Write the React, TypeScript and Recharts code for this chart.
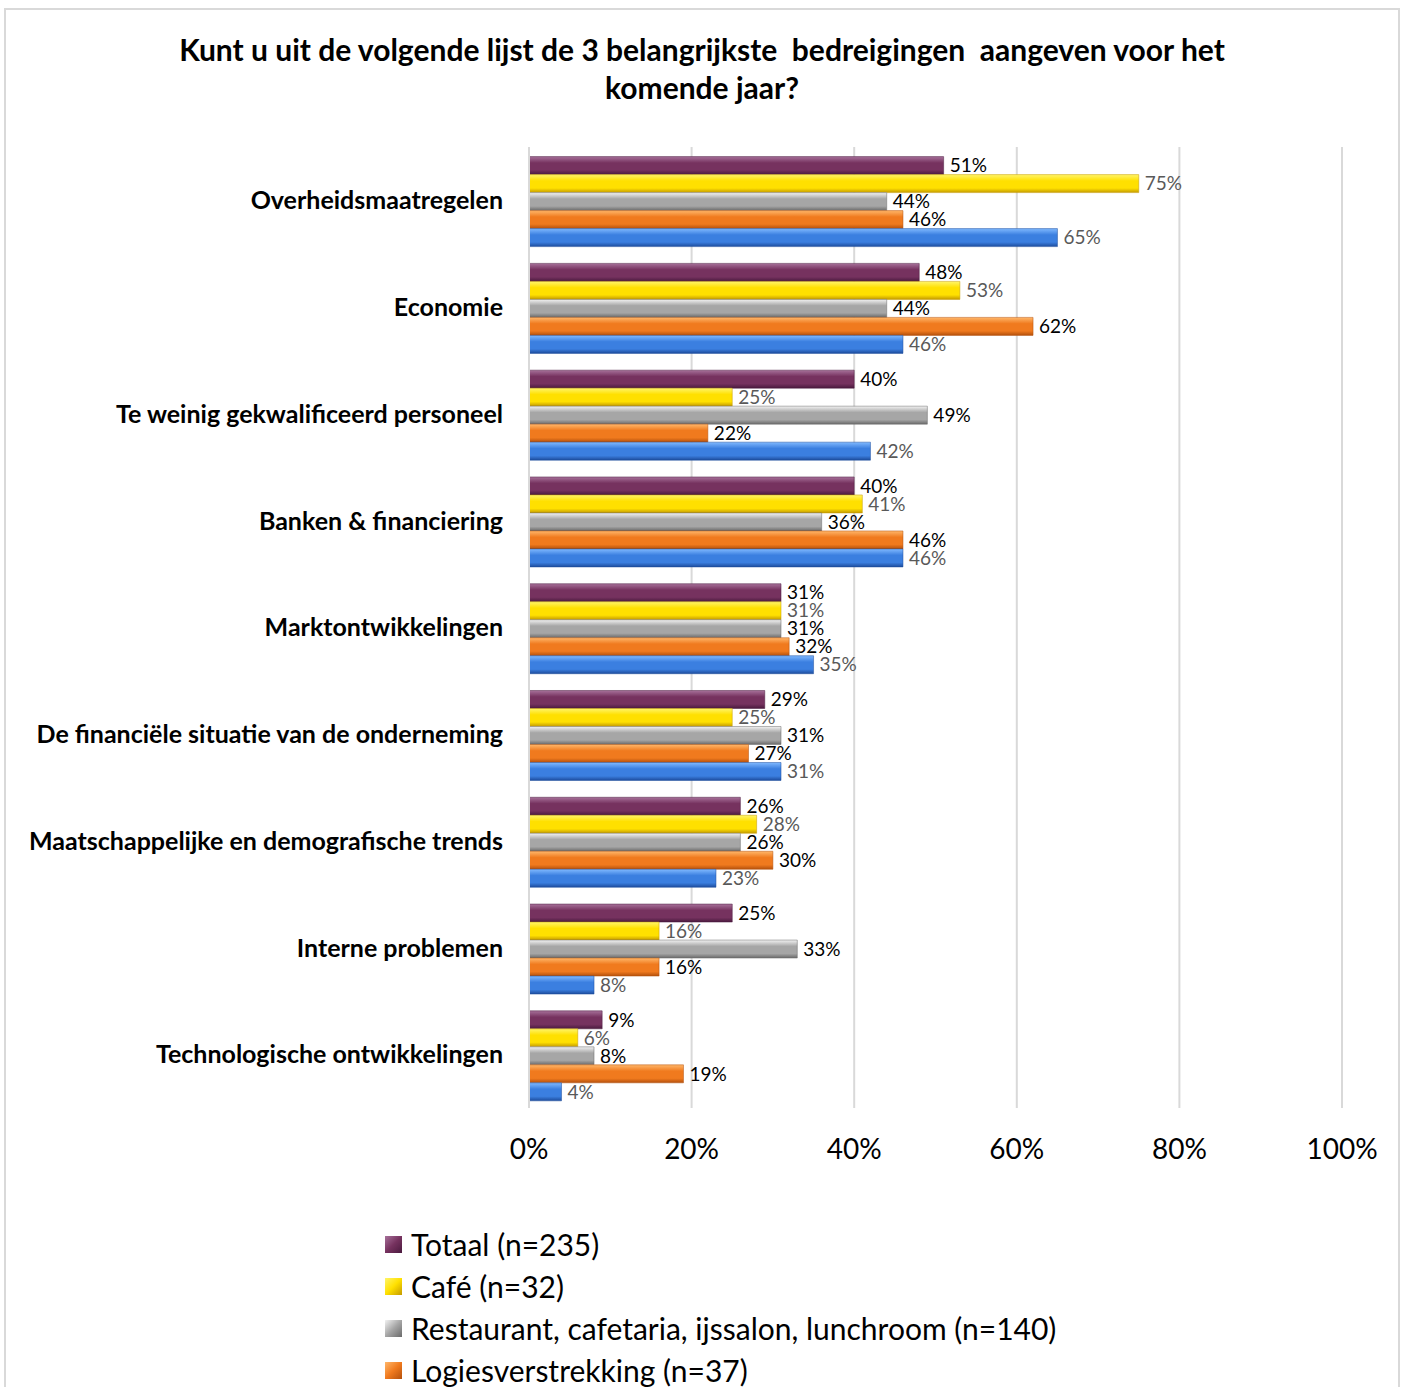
import { BarChart, Bar, XAxis, YAxis, CartesianGrid, Legend, LabelList } from "recharts"

const categories = [
    "Overheidsmaatregelen",
    "Economie",
    "Te weinig gekwalificeerd personeel",
    "Banken & financiering",
    "Marktontwikkelingen",
    "De financiële situatie van de onderneming",
    "Maatschappelijke en demografische trends",
    "Interne problemen",
    "Technologische ontwikkelingen",
]

const totaal = [51, 48, 40, 40, 31, 29, 26, 25, 9]
const cafe = [75, 53, 25, 41, 31, 25, 28, 16, 6]
const restaurant = [44, 44, 49, 36, 31, 31, 26, 33, 8]
const logies = [46, 62, 22, 46, 32, 27, 30, 16, 19]
const overig = [65, 46, 42, 46, 35, 31, 23, 8, 4]

const xTicks = [0, 20, 40, 60, 80, 100]

const series = [
    { key: "totaal", name: "Totaal (n=235)", values: totaal, colors: ["#a7719a", "#76325f", "#4a1a3e"], label: "#000000" },
    { key: "cafe", name: "Café (n=32)", values: cafe, colors: ["#fff56a", "#ffe000", "#c49a00"], label: "#595959" },
    { key: "restaurant", name: "Restaurant, cafetaria, ijssalon, lunchroom (n=140)", values: restaurant, colors: ["#f2f2f2", "#a6a6a6", "#6a6a6a"], label: "#000000" },
    { key: "logies", name: "Logiesverstrekking (n=37)", values: logies, colors: ["#ffb76a", "#f07a1e", "#b4500c"], label: "#000000" },
    { key: "overig", name: "Overig (n=26)", values: overig, colors: ["#80b9ff", "#3b7fe0", "#1d4c9c"], label: "#595959" },
]

const data = categories.map((cat, i) => {
    const row: Record<string, string | number> = { cat }
    series.forEach((s) => {
        row[s.key] = s.values[i]
    })
    return row
})

const font = "Lato, 'Open Sans', sans-serif"

function LegendBox() {
    // own order, the default legend sorts by name
    return (
        <div style={{ fontFamily: font, fontSize: 30, color: "#000" }}>
            {series.map((s) => (
                <div key={s.key} style={{ display: "flex", alignItems: "center", height: 42 }}>
                    <div
                        style={{
                            width: 17,
                            height: 17,
                            marginRight: 9,
                            background: `linear-gradient(135deg, ${s.colors[0]}, ${s.colors[1]} 50%, ${s.colors[2]})`,
                        }}
                    />
                    <span>{s.name}</span>
                </div>
            ))}
        </div>
    )
}

export default function App() {
    return (
        <div style={{ position: "absolute", left: 0, top: 0, width: 1404, height: 1387, background: "#fff", overflow: "hidden" }}>
            <div
                style={{
                    position: "absolute",
                    left: 4,
                    top: 8,
                    width: 1392,
                    height: 1400,
                    border: "2px solid #d9d9d9",
                }}
            />
            <div
                style={{
                    position: "absolute",
                    left: 60,
                    top: 30,
                    width: 1284,
                    textAlign: "center",
                    fontFamily: font,
                    fontWeight: 700,
                    fontSize: 30,
                    lineHeight: "38px",
                    color: "#000",
                }}
            >
                Kunt u uit de volgende lijst de 3 belangrijkste&nbsp; bedreigingen&nbsp; aangeven voor het
                <br />
                komende jaar?
            </div>
            <BarChart
                width={1404}
                height={1387}
                data={data}
                layout="vertical"
                barCategoryGap="9%"
                barGap={0}
                margin={{ top: 147, right: 62, left: 9, bottom: 219 }}
                style={{ position: "absolute", left: 0, top: 0 }}
            >
                <defs>
                    {series.map((s) => (
                        <linearGradient key={s.key} id={`g-${s.key}`} x1="0" y1="0" x2="0" y2="1">
                            <stop offset="0%" stopColor={s.colors[0]} />
                            <stop offset="35%" stopColor={s.colors[1]} />
                            <stop offset="75%" stopColor={s.colors[1]} />
                            <stop offset="100%" stopColor={s.colors[2]} />
                        </linearGradient>
                    ))}
                </defs>
                <CartesianGrid horizontal={false} stroke="#d9d9d9" strokeWidth={2} />
                <XAxis
                    type="number"
                    domain={[0, 100]}
                    ticks={xTicks}
                    tickFormatter={(v) => `${v}%`}
                    axisLine={false}
                    tickLine={false}
                    tickMargin={25}
                    height={60}
                    tick={{ fontFamily: font, fontSize: 28, fill: "#000" }}
                />
                <YAxis
                    type="category"
                    dataKey="cat"
                    width={520}
                    axisLine={{ stroke: "#d9d9d9", strokeWidth: 2 }}
                    tickLine={false}
                    tickSize={0}
                    tickMargin={26}
                    tick={{ fontFamily: font, fontSize: 25, fontWeight: 700, fill: "#000" }}
                />
                <Legend
                    layout="vertical"
                    align="center"
                    verticalAlign="middle"
                    content={<LegendBox />}
                    wrapperStyle={{ position: "absolute", left: 385, top: 1223, width: 800, bottom: "auto" }}
                />
                {series.map((s) => (
                    <Bar
                        key={s.key}
                        dataKey={s.key}
                        name={s.name}
                        fill={`url(#g-${s.key})`}
                        stroke={s.colors[2]}
                        strokeWidth={0.5}
                        isAnimationActive={false}
                    >
                        <LabelList
                            dataKey={s.key}
                            position="right"
                            offset={6}
                            formatter={(v: any) => `${v}%`}
                            style={{ fontFamily: font, fontSize: 19, fill: s.label }}
                        />
                    </Bar>
                ))}
            </BarChart>
        </div>
    )
}
